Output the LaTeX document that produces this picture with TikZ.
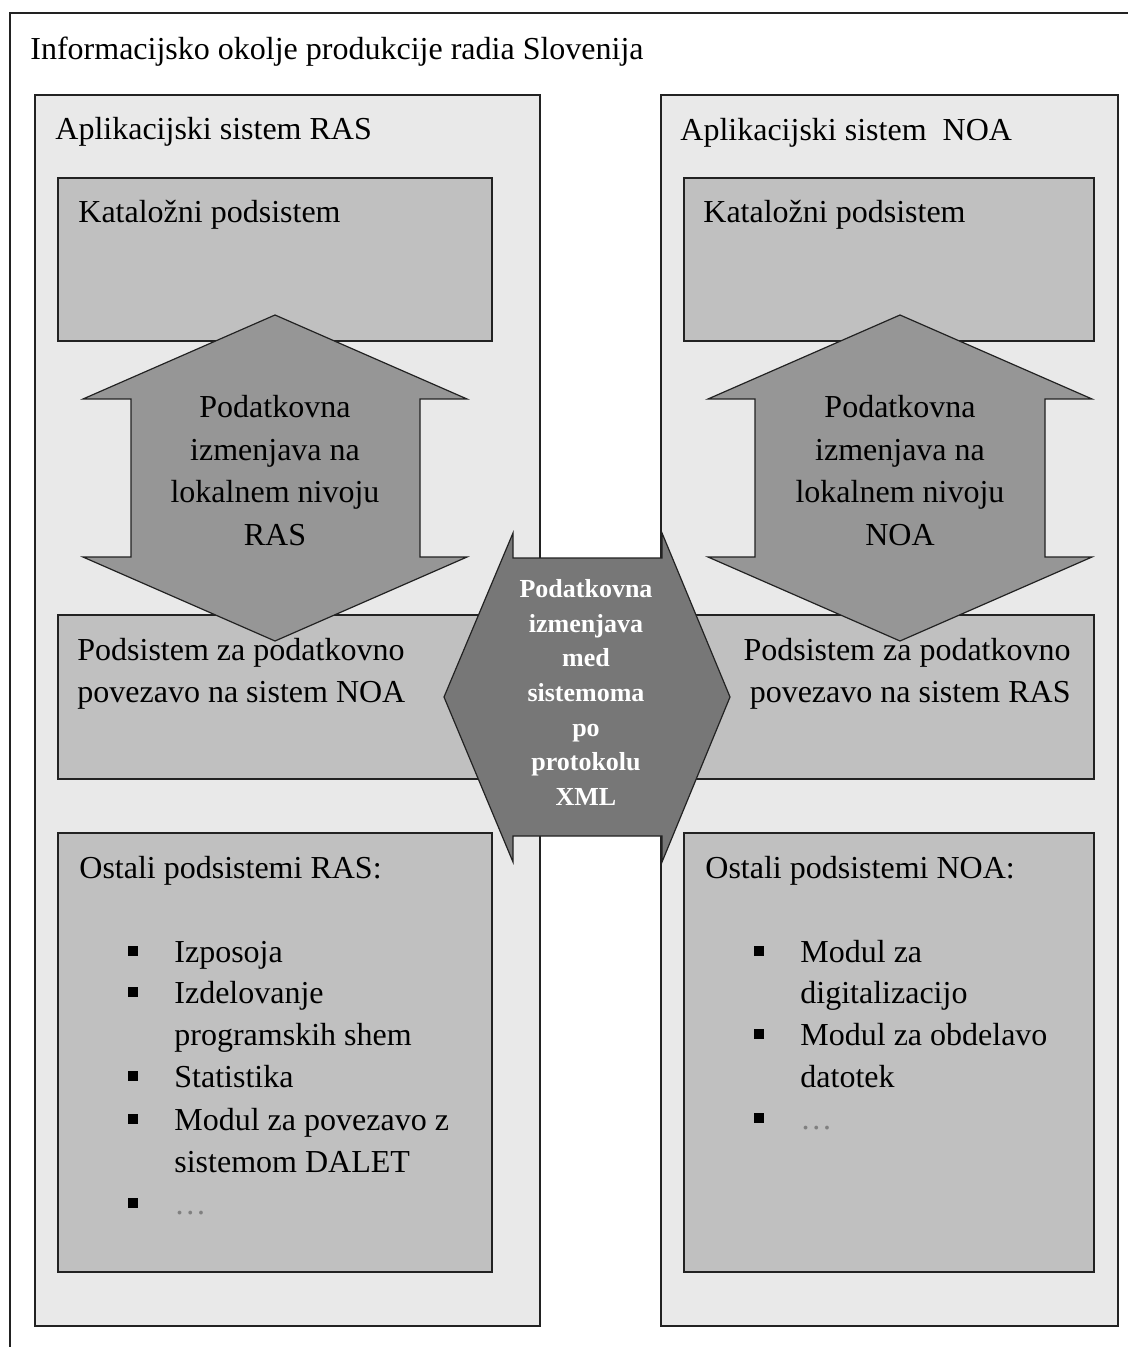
\documentclass[tikz,border=0pt]{standalone}
\usepackage{fontspec}
\setmainfont{Liberation Serif}
\definecolor{appgray}{HTML}{E9E9E9}
\definecolor{subgray}{HTML}{C0C0C0}
\definecolor{arrowgray}{HTML}{969696}
\definecolor{hexgray}{HTML}{777777}
\definecolor{edge}{HTML}{222222}
\begin{document}
\begin{tikzpicture}[x=0.5pt,y=-0.5pt,
  frameline/.style={draw=edge, line width=0.8pt},
  appbox/.style={frameline, fill=appgray},
  subbox/.style={frameline, fill=subgray},
  vshape/.style={draw=edge, line width=0.6pt, fill=arrowgray},
  hexshape/.style={draw=edge, line width=0.6pt, fill=hexgray},
  lbl/.style={inner sep=0pt, anchor=base west, font=\fontsize{16pt}{21pt}\selectfont},
  lblc/.style={lbl, anchor=base},
  lblr/.style={lbl, anchor=base east},
  ell/.style={lbl, text=black!50},
  hexlbl/.style={inner sep=0pt, anchor=base, text=white, font=\fontsize{13pt}{17pt}\selectfont\bfseries},
  bsq/.style={fill=black, inner sep=0pt, minimum size=5pt}
]
\useasboundingbox (0,0) rectangle (1128,1347);
\fill[white] (0,0) rectangle (1128,1347);

% outer environment frame (continues past the page edges)
\draw[frameline] (10,1347) -- (10,13) -- (1128,13);
\node[lbl] (envtitle) at (30,60) {Informacijsko okolje produkcije radia Slovenija};

% application systems
\draw[appbox] (35,95) rectangle (540,1326);
\draw[appbox] (661,95) rectangle (1118,1326);
\node[lbl] (rastitle) at (55,140) {Aplikacijski sistem RAS};
\node[lbl] (noatitle) at (680,141) {Aplikacijski sistem~~NOA};

% subsystems
\draw[subbox] (58,178) rectangle (492,341);
\draw[subbox] (684,178) rectangle (1094,341);
\draw[subbox] (58,615) rectangle (492,779);
\draw[subbox] (684,615) rectangle (1094,779);
\draw[subbox] (58,833) rectangle (492,1272);
\draw[subbox] (684,833) rectangle (1094,1272);

% local exchange arrows (up/down)
\draw[vshape] (275,315) -- (467,399) -- (420,399) -- (420,557) -- (467,557)
  -- (275,641) -- (83,557) -- (131,557) -- (131,399) -- (83,399) -- cycle;
\draw[vshape] (900,315) -- (1092,399) -- (1045,399) -- (1045,557) -- (1092,557)
  -- (900,641) -- (708,557) -- (755,557) -- (755,399) -- (708,399) -- cycle;

% exchange between the systems (left/right)
\draw[hexshape] (444,697) -- (513,533) -- (513,558) -- (662,558) -- (662,533)
  -- (730,697) -- (662,862) -- (662,836) -- (513,836) -- (513,862) -- cycle;

% subsystem labels
\node[lbl] (katl) at (78,223) {Katalo\v{z}ni podsistem};
\node[lbl] (katr) at (703,223) {Katalo\v{z}ni podsistem};
\node[lbl] (podla) at (77,660) {Podsistem za podatkovno};
\node[lbl] (podlb) at (77,702) {povezavo na sistem NOA};
\node[lblr] (podra) at (1071,660) {Podsistem za podatkovno};
\node[lblr] (podrb) at (1071,702) {povezavo na sistem RAS};

% arrow labels
\node[lblc] (lxa) at (275,417) {Podatkovna};
\node[lblc] (lxb) at (275,460) {izmenjava na};
\node[lblc] (lxc) at (275,502) {lokalnem nivoju};
\node[lblc] (lxd) at (275,545) {RAS};
\node[lblc] (rxa) at (900,417) {Podatkovna};
\node[lblc] (rxb) at (900,460) {izmenjava na};
\node[lblc] (rxc) at (900,502) {lokalnem nivoju};
\node[lblc] (rxd) at (900,545) {NOA};

\node[hexlbl] (hxa) at (586,597) {Podatkovna};
\node[hexlbl] (hxb) at (586,632) {izmenjava};
\node[hexlbl] (hxc) at (586,666) {med};
\node[hexlbl] (hxd) at (586,701) {sistemoma};
\node[hexlbl] (hxe) at (586,736) {po};
\node[hexlbl] (hxf) at (586,770) {protokolu};
\node[hexlbl] (hxg) at (586,805) {XML};

% other RAS subsystems
\node[lbl] (ostl) at (79,878) {Ostali podsistemi RAS:};
\node[bsq] (bl1) at (133,951) {};
\node[lbl] (il1) at (174,962) {Izposoja};
\node[bsq] (bl2) at (133,992) {};
\node[lbl] (il2) at (174,1003) {Izdelovanje};
\node[lbl] (il2b) at (174,1045) {programskih shem};
\node[bsq] (bl3) at (133,1076) {};
\node[lbl] (il3) at (174,1087) {Statistika};
\node[bsq] (bl4) at (133,1119) {};
\node[lbl] (il4) at (174,1130) {Modul za povezavo z};
\node[lbl] (il4b) at (174,1172) {sistemom DALET};
\node[bsq] (bl5) at (133,1203) {};
\node[ell] (il5) at (174,1214) {…};

% other NOA subsystems
\node[lbl] (ostr) at (705,878) {Ostali podsistemi NOA:};
\node[bsq] (br1) at (759,951) {};
\node[lbl] (ir1) at (800,962) {Modul za};
\node[lbl] (ir1b) at (800,1003) {digitalizacijo};
\node[bsq] (br2) at (759,1034) {};
\node[lbl] (ir2) at (800,1045) {Modul za obdelavo};
\node[lbl] (ir2b) at (800,1087) {datotek};
\node[bsq] (br3) at (759,1118) {};
\node[ell] (ir3) at (800,1129) {…};
\end{tikzpicture}
\end{document}
